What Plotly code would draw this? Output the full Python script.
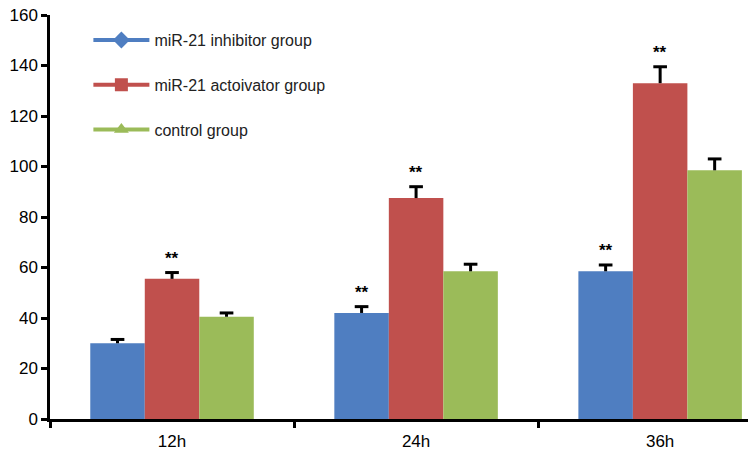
import plotly.graph_objects as go

categories = ["12h", "24h", "36h"]
series_names = ["miR-21 inhibitor group", "miR-21 actoivator group", "control group"]
inhibitor = [30, 42, 58.5]
inhibitor_err = [1.5, 2.5, 2.5]
activator = [55.5, 87.5, 133]
activator_err = [2.5, 4.5, 6.5]
control = [40.5, 58.5, 98.5]
control_err = [1.5, 2.8, 4.5]
# significance marks ("**") per series per category
inhibitor_sig = ["", "**", "**"]
activator_sig = ["**", "**", "**"]
control_sig = ["", "", ""]
y_ticks = [0, 20, 40, 60, 80, 100, 120, 140, 160]

colors = ["#4F7EC1", "#C0504D", "#9BBB59"]
symbols = ["diamond", "square", "triangle-up"]
values = [inhibitor, activator, control]
errs = [inhibitor_err, activator_err, control_err]
sigs = [inhibitor_sig, activator_sig, control_sig]

FONT = "Liberation Sans, Arial, sans-serif"
bargap = 0.33
bar_w = (1 - bargap) / 3
cap_half = 0.028  # half width of error-bar cap, in category units

fig = go.Figure()
for i in range(3):
    fig.add_trace(go.Bar(
        x=categories, y=values[i], name=series_names[i],
        marker=dict(color=colors[i], line=dict(width=0)),
        error_y=dict(type="data", symmetric=False, array=errs[i],
                     arrayminus=[0] * len(categories),
                     color="black", thickness=3, width=0),
        showlegend=False,
    ))
# legend entries (line + marker style as in the reference)
for i in range(3):
    fig.add_trace(go.Scatter(
        x=[None], y=[None], mode="lines+markers", name=series_names[i],
        line=dict(color=colors[i], width=4),
        marker=dict(color=colors[i], symbol=symbols[i], size=13),
        legendgroup=f"g{i}",
    ))

annotations = []
shapes = []
for i in range(3):
    offset = (i - 1) * bar_w
    for j, cat in enumerate(categories):
        top = values[i][j] + errs[i][j]
        shapes.append(dict(
            type="line", xref="x", yref="y",
            x0=j + offset - cap_half, x1=j + offset + cap_half, y0=top, y1=top,
            line=dict(color="black", width=3),
        ))
        if sigs[i][j]:
            annotations.append(dict(
                x=j + offset, y=top,
                xref="x", yref="y", text="<b>" + sigs[i][j] + "</b>",
                showarrow=False, yanchor="bottom", yshift=3,
                font=dict(family=FONT, size=17, color="black"),
            ))

fig.update_layout(
    width=748, height=459,
    margin=dict(l=50, r=0, t=15, b=40),
    paper_bgcolor="white", plot_bgcolor="white",
    barmode="group", bargap=bargap, bargroupgap=0,
    font=dict(family=FONT, color="black"),
    showlegend=True,
    legend=dict(x=0.055, y=0.98, xanchor="left", yanchor="top",
                bgcolor="rgba(0,0,0,0)", font=dict(family=FONT, size=16, color="#222"),
                tracegroupgap=21, traceorder="grouped", itemwidth=56),
    annotations=annotations,
    shapes=shapes,
    xaxis=dict(
        type="category", range=[-0.5, 2.36], automargin=False,
        showline=True, linecolor="black", linewidth=2.5,
        ticks="outside", tickson="boundaries", ticklen=6, tickwidth=2.5, tickcolor="black",
        tickfont=dict(family=FONT, size=17, color="black"), ticklabelstandoff=5,
        showgrid=False, zeroline=False,
    ),
    yaxis=dict(
        range=[0, 160], tickvals=y_ticks, automargin=False,
        showline=True, linecolor="black", linewidth=2.5,
        ticks="outside", ticklen=6, tickwidth=2.5, tickcolor="black",
        tickfont=dict(family=FONT, size=17, color="black"),
        showgrid=False, zeroline=False,
    ),
)

fig.write_html("out.html", config={"displayModeBar": False},
               post_script="document.body.style.margin='0';document.body.style.overflow='hidden';")
